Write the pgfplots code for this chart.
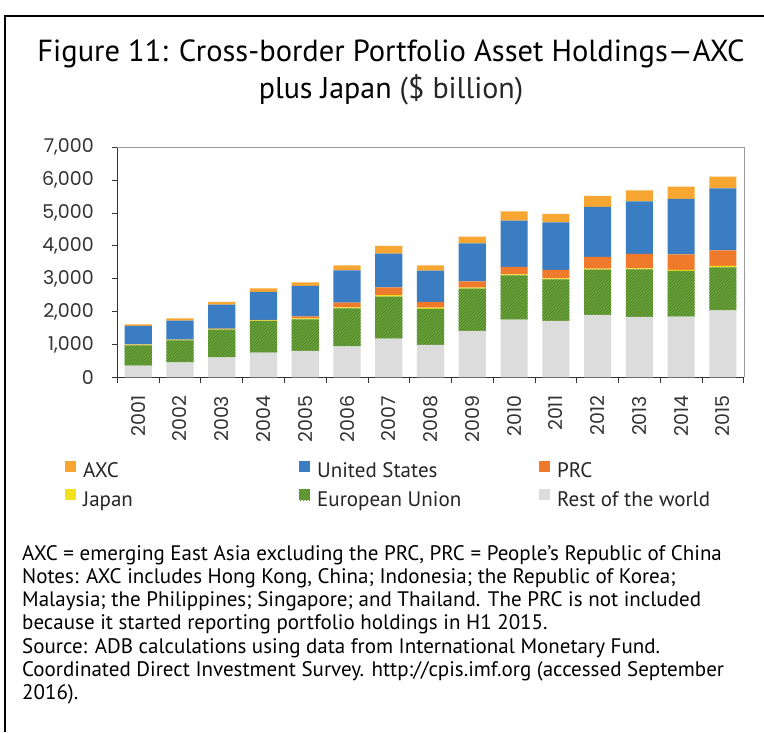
\documentclass[border=0pt]{standalone}
\usepackage{pgfplots}
\pgfplotsset{compat=1.18}
\usetikzlibrary{patterns}
\usepackage{fontspec}
\setmainfont{PT Sans}
\newfontfamily\tickfont{Poppins}
\definecolor{axcc}{HTML}{F6A631}
\definecolor{usc}{HTML}{3A7DC3}
\definecolor{prcc}{HTML}{EF7A2C}
\definecolor{japc}{HTML}{F2E21B}
\definecolor{euc}{HTML}{6BA63A}
\definecolor{hatchc}{HTML}{4A7A26}
\definecolor{restc}{HTML}{DCDCDC}
\begin{document}
\begin{tikzpicture}
\useasboundingbox (0,0) rectangle (764pt,-732pt);
\fill[white] (0,0) rectangle (764pt,-732pt);
\draw[line width=1.6pt] (5pt,-732pt) -- (5pt,-16pt) -- (764pt,-16pt);
\node[anchor=base, inner sep=0] at (391pt,-61pt) {\fontsize{30.5}{34}\selectfont Figure 11: Cross-border Portfolio Asset Holdings—AXC};
\node[anchor=base, inner sep=0] at (391pt,-98pt) {\fontsize{30}{34}\selectfont plus Japan {\color{black!85}(\$ billion)}};
\begin{axis}[
  at={(117.3pt,-377.3pt)}, anchor=south west,
  scale only axis, width=626.5pt, height=230pt,
  xmin=-0.5, xmax=14.5, ymin=0, ymax=7000,
  ybar stacked, bar width=0.65,
  axis x line*=bottom, axis y line*=left,
  axis line style={draw=black!80, line width=0.8pt},
  tick align=outside,
  xtick={0,...,14},
  xticklabels={2001,2002,2003,2004,2005,2006,2007,2008,2009,2010,2011,2012,2013,2014,2015},
  major x tick style={draw=none},
  minor xtick={-0.5,0.5,...,14.5},
  minor x tick style={draw=black!80, line width=0.8pt},
  y tick style={draw=black!80, line width=0.8pt},
  minor tick length=6pt, major tick length=5pt,
  ytick={0,1000,...,7000},
  yticklabels={0,{1,000},{2,000},{3,000},{4,000},{5,000},{6,000},{7,000}},
  xticklabel style={rotate=90, anchor=east, font=\tickfont\fontsize{19}{21}\selectfont, text=black!80, xshift=-10pt},
  yticklabel style={font=\tickfont\fontsize{19}{21}\selectfont, text=black!80, xshift=-15pt},
  legend columns=3, reverse legend, legend cell align=left,
  legend style={at={(-0.0835,-0.364)}, anchor=north west, draw=none, fill=none, inner sep=0pt,
    font=\fontsize{21}{25}\selectfont, row sep=9pt,
    /tikz/every odd column/.style={column sep=6pt},
    nodes={inner sep=1pt, text=black!85}},
  legend image code/.code={\fill[#1] (0pt,-1pt) rectangle (11pt,10pt);},
  after end axis/.code={\draw[black!40, line width=0.6pt] (rel axis cs:0,1) -- (rel axis cs:1,1) -- (rel axis cs:1,0);},
]
\addplot[fill=restc, draw=none] coordinates {(0,355) (1,457) (2,609) (3,751) (4,801) (5,943) (6,1177) (7,984) (8,1410) (9,1755) (10,1715) (11,1897) (12,1836) (13,1846) (14,2039)};
\addlegendentry{Rest of the world}
\addplot[fill=euc, draw=none, postaction={pattern=north east lines, pattern color=hatchc}] coordinates {(0,619) (1,669) (2,842) (3,963) (4,964) (5,1157) (6,1278) (7,1096) (8,1289) (9,1349) (10,1268) (11,1380) (12,1451) (13,1390) (14,1309)};
\addlegendentry{\makebox[221pt][l]{European Union}}
\addplot[fill=japc, draw=none] coordinates {(0,20) (1,20) (2,19) (3,21) (4,25) (5,30) (6,45) (7,40) (8,30) (9,30) (10,30) (11,30) (12,30) (13,31) (14,40)};
\addlegendentry{\makebox[215pt][l]{Japan}}
\addplot[fill=prcc, draw=none] coordinates {(0,6) (1,4) (2,11) (3,10) (4,67) (5,142) (6,239) (7,173) (8,193) (9,224) (10,254) (11,355) (12,437) (13,477) (14,477)};
\addlegendentry{PRC}
\addplot[fill=usc, draw=none] coordinates {(0,562) (1,575) (2,731) (3,852) (4,923) (5,985) (6,1025) (7,953) (8,1156) (9,1410) (10,1450) (11,1522) (12,1603) (13,1684) (14,1887)};
\addlegendentry{\makebox[221pt][l]{United States}}
\addplot[fill=axcc, draw=none] coordinates {(0,51) (1,71) (2,81) (3,112) (4,111) (5,152) (6,233) (7,163) (8,203) (9,284) (10,254) (11,335) (12,334) (13,375) (14,355)};
\addlegendentry{\makebox[215pt][l]{AXC}}
\end{axis}
\begin{scope}[every node/.style={anchor=base west, inner sep=0, font=\fontsize{21}{23}\selectfont}]
\node at (22pt,-560.5pt) {AXC = emerging East Asia excluding the PRC, PRC = People’s Republic of China};
\node at (22pt,-583.5pt) {Notes: AXC includes Hong Kong, China; Indonesia; the Republic of Korea;};
\node at (22pt,-606.5pt) {Malaysia; the Philippines; Singapore; and Thailand. The PRC is not included};
\node at (22pt,-629.5pt) {because it started reporting portfolio holdings in H1 2015.};
\node at (22pt,-653pt) {Source: ADB calculations using data from International Monetary Fund.};
\node at (22pt,-676pt) {Coordinated Direct Investment Survey. http://cpis.imf.org (accessed September};
\node at (22pt,-699pt) {2016).};
\end{scope}
\end{tikzpicture}
\end{document}
